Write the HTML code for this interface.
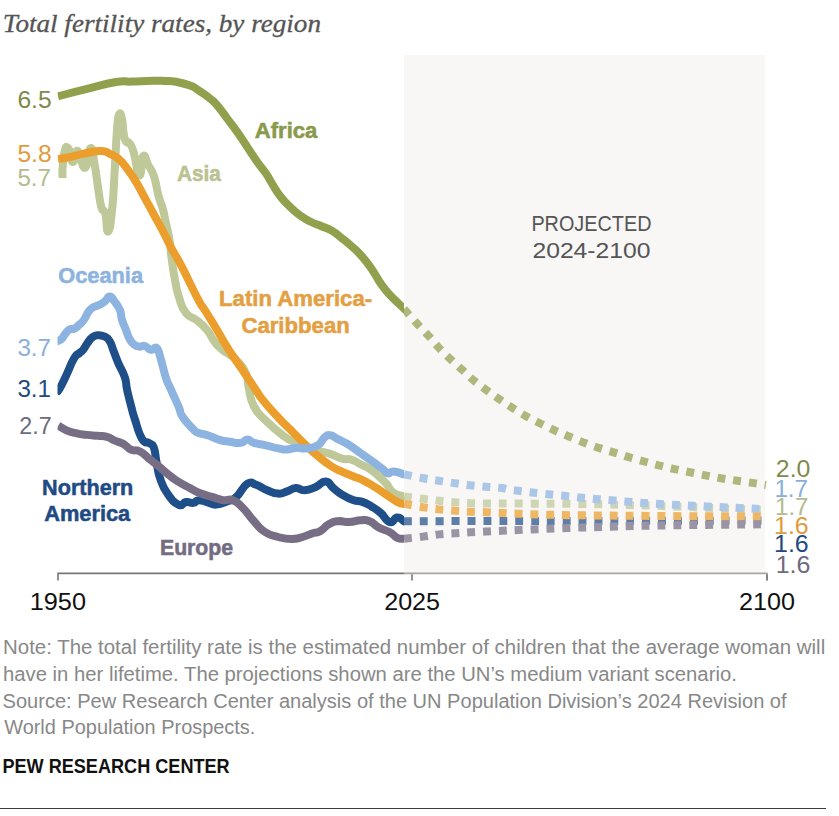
<!DOCTYPE html>
<html><head><meta charset="utf-8"><style>
html,body{margin:0;padding:0;background:#fff;width:839px;height:816px;overflow:hidden}
svg{display:block}
</style></head><body>
<svg width="839" height="816" viewBox="0 0 839 816">
<rect x="404" y="55" width="361" height="518" fill="#f8f7f5"/>
<path d="M58,580.5 V573.4 H404" fill="none" stroke="#777777" stroke-width="1.6"/><path d="M404,573.4 H767 V580.5" fill="none" stroke="#a6a6a6" stroke-width="1.6"/>
<line x1="412" y1="574.2" x2="412" y2="580.5" stroke="#777777" stroke-width="1.6"/>
<line x1="767" y1="574.2" x2="767" y2="580.5" stroke="#777777" stroke-width="1.6"/>
<defs><clipPath id="plot"><rect x="57.5" y="0" width="346.5" height="600"/></clipPath><clipPath id="proj"><rect x="404" y="0" width="400" height="600"/></clipPath></defs>
<path d="M400.68,305.26 L404.0,309.0 C406.3,311.6 413.5,319.8 417.6,324.3 C421.8,328.8 425.3,332.1 428.9,336.1 C432.5,340.1 435.6,344.2 439.2,348.1 C442.8,352.0 446.8,355.7 450.7,359.4 C454.6,363.1 458.6,366.6 462.5,370.1 C466.4,373.7 469.9,377.3 474.0,380.7 C478.1,384.1 482.7,387.4 487.0,390.5 C491.3,393.6 495.6,396.6 500.0,399.6 C504.4,402.6 508.7,405.5 513.2,408.4 C517.7,411.2 522.3,414.1 527.0,416.7 C531.7,419.3 536.6,421.6 541.4,424.0 C546.2,426.4 550.8,428.7 555.6,430.9 C560.4,433.1 565.4,435.0 570.3,437.0 C575.2,439.0 580.0,441.1 585.0,443.0 C590.0,444.9 595.2,446.8 600.3,448.4 C605.3,450.0 610.3,451.3 615.3,452.9 C620.3,454.4 625.3,456.2 630.5,457.7 C635.7,459.2 641.1,460.6 646.3,462.0 C651.5,463.4 656.4,464.7 661.5,466.0 C666.6,467.3 671.8,468.5 677.0,469.6 C682.2,470.7 687.3,471.7 692.5,472.7 C697.7,473.7 702.8,474.8 708.0,475.8 C713.2,476.8 718.5,477.8 723.7,478.7 C728.9,479.6 733.9,480.2 739.2,481.0 C744.5,481.8 751.2,482.7 755.7,483.4 C760.2,484.1 764.3,484.7 766.0,485.0" fill="none" stroke="#aeb87c" stroke-width="8" stroke-dasharray="7.94 7.94" stroke-dashoffset="10.88" clip-path="url(#proj)"/>
<path d="M399.04,495.77 L404.0,496.4 C407.2,496.8 417.2,498.1 423.0,498.8 C428.8,499.5 433.7,500.2 439.0,500.8 C444.3,501.4 449.7,501.9 455.0,502.3 C460.3,502.7 463.5,503.0 471.0,503.2 C478.5,503.4 486.8,503.4 500.0,503.5 C513.2,503.6 533.3,503.6 550.0,503.7 C566.7,503.8 584.0,504.0 600.0,504.3 C616.0,504.6 629.3,505.0 646.0,505.5 C662.7,506.0 680.0,506.7 700.0,507.5 C720.0,508.3 755.0,510.0 766.0,510.5" fill="none" stroke="#ced5b3" stroke-width="8" stroke-dasharray="7.94 7.94" stroke-dashoffset="10.88" clip-path="url(#proj)"/>
<path d="M399.00,521.21 L404.0,521.2 C423.0,521.2 488.3,521.0 518.0,521.0 C547.7,521.0 541.1,521.1 582.4,521.0 C623.7,520.9 735.4,520.6 766.0,520.5" fill="none" stroke="#5c7ea7" stroke-width="8" stroke-dasharray="7.94 7.94" stroke-dashoffset="10.88" clip-path="url(#proj)"/>
<path d="M399.10,473.31 L404.0,474.3 C407.2,474.9 417.5,477.1 423.3,478.2 C429.1,479.3 433.6,479.9 438.7,480.7 C443.8,481.5 448.8,482.3 454.0,483.1 C459.2,483.9 464.6,484.7 469.9,485.3 C475.2,485.9 480.5,486.4 485.8,486.8 C491.1,487.2 496.3,487.3 501.7,488.0 C507.1,488.7 504.6,489.2 518.0,490.8 C531.5,492.4 558.7,495.5 582.4,497.7 C606.1,499.9 629.4,502.1 660.0,504.0 C690.6,505.9 748.3,508.3 766.0,509.2" fill="none" stroke="#abc6e6" stroke-width="8" stroke-dasharray="7.94 7.94" stroke-dashoffset="10.88" clip-path="url(#proj)"/>
<path d="M399.08,502.92 L404.0,503.8 C407.2,504.4 417.2,506.3 423.0,507.2 C428.8,508.1 433.7,508.8 439.0,509.4 C444.3,510.0 449.8,510.4 455.0,510.8 C460.2,511.2 464.8,511.6 470.0,511.8 C475.2,512.0 480.7,512.0 486.0,512.2 C491.3,512.4 496.7,512.8 502.0,513.0 C507.3,513.2 504.7,513.3 518.0,513.7 C531.3,514.1 540.7,514.8 582.0,515.3 C623.3,515.8 735.3,516.5 766.0,516.7" fill="none" stroke="#efb764" stroke-width="8" stroke-dasharray="7.94 7.94" stroke-dashoffset="10.88" clip-path="url(#proj)"/>
<path d="M399.03,539.25 L404.0,538.7 C407.2,538.4 417.2,537.3 423.0,536.6 C428.8,535.9 433.7,535.0 439.0,534.4 C444.3,533.8 449.8,533.6 455.0,533.3 C460.2,532.9 464.8,532.6 470.0,532.3 C475.2,532.0 480.7,531.8 486.0,531.5 C491.3,531.2 496.7,531.0 502.0,530.8 C507.3,530.5 504.6,530.5 518.0,530.0 C531.4,529.5 558.7,528.2 582.4,527.5 C606.1,526.8 629.4,526.0 660.0,525.5 C690.6,525.0 748.3,524.5 766.0,524.3" fill="none" stroke="#9b94a5" stroke-width="8" stroke-dasharray="7.94 7.94" stroke-dashoffset="10.88" clip-path="url(#proj)"/>
<path d="M58.0,96.3 C65.7,94.3 71.5,92.7 87.0,88.9 C102.5,85.1 104.3,83.9 116.0,82.0 C127.7,80.1 121.1,81.9 131.0,81.6 C140.9,81.3 143.9,81.0 153.0,80.8 C162.1,80.6 158.9,80.6 165.0,80.9 C171.1,81.2 169.3,80.5 176.0,81.8 C182.7,83.1 184.1,83.4 190.0,85.6 C195.9,87.8 193.0,86.8 198.3,90.2 C203.6,93.6 204.7,94.1 210.0,98.5 C215.3,102.9 213.5,101.0 218.2,106.6 C222.9,112.2 222.7,112.6 227.8,119.4 C232.9,126.2 232.2,124.9 237.3,132.1 C242.4,139.3 241.8,138.7 246.9,146.4 C252.0,154.1 251.3,153.6 256.4,160.8 C261.5,168.0 261.9,167.6 266.0,173.5 C270.1,179.4 267.9,176.9 271.7,183.0 C275.5,189.1 275.3,189.7 280.3,196.2 C285.3,202.7 285.1,202.1 290.6,207.4 C296.1,212.7 295.4,212.1 300.9,216.0 C306.4,219.9 305.7,219.3 311.2,222.0 C316.7,224.7 316.0,224.0 321.5,226.3 C327.0,228.6 326.3,227.4 331.8,230.6 C337.3,233.8 336.5,234.0 342.0,238.3 C347.5,242.6 346.8,241.9 352.3,246.9 C357.8,251.9 357.1,250.8 362.6,257.2 C368.1,263.6 367.9,263.6 372.9,270.9 C377.9,278.2 376.9,278.2 381.5,284.6 C386.1,291.0 385.4,290.0 390.0,295.0 C394.6,300.0 394.9,299.9 398.6,303.5 C402.3,307.1 402.6,307.2 404.0,308.6 L408.36,312.72" fill="none" stroke="#91a04d" stroke-width="8" stroke-linejoin="round" stroke-linecap="butt" clip-path="url(#plot)"/>
<path d="M62.5,178.0 C62.6,174.5 62.1,172.5 62.8,165.0 C63.5,157.5 63.7,154.7 65.0,150.0 C66.3,145.3 66.2,147.0 67.5,147.5 C68.8,148.0 68.5,148.1 70.0,152.0 C71.5,155.9 71.0,162.3 73.0,162.0 C75.0,161.7 74.4,149.4 77.6,150.9 C80.8,152.4 81.6,168.5 85.0,167.8 C88.4,167.1 88.0,149.3 90.5,148.2 C93.0,147.1 92.5,153.5 94.5,163.7 C96.5,173.9 96.1,175.1 97.9,186.6 C99.7,198.1 99.3,199.7 101.3,206.9 C103.3,214.1 103.5,207.0 105.3,213.6 C107.1,220.2 106.2,232.2 108.0,231.5 C109.8,230.8 110.2,227.3 112.0,211.0 C113.8,194.7 113.4,192.1 114.7,170.5 C116.0,148.9 115.8,144.9 117.0,130.0 C118.2,115.1 117.8,117.4 119.1,114.5 C120.4,111.6 120.8,114.3 122.0,119.1 C123.2,123.9 122.5,126.5 123.5,132.4 C124.5,138.3 124.2,138.4 125.7,141.2 C127.2,144.0 127.0,140.2 129.1,143.0 C131.2,145.8 130.8,143.2 133.5,151.8 C136.2,160.4 136.8,174.1 139.4,175.3 C142.0,176.5 140.8,158.9 143.1,156.2 C145.4,153.5 145.3,159.5 148.2,165.0 C151.1,170.5 151.4,168.6 154.1,176.8 C156.8,185.0 156.2,187.3 158.5,195.9 C160.8,204.5 160.9,201.7 162.9,209.1 C164.9,216.5 164.2,215.6 166.0,223.8 C167.8,232.0 168.0,230.3 169.5,240.0 C171.0,249.7 170.3,249.3 171.8,260.0 C173.3,270.7 173.1,270.1 175.0,280.0 C176.9,289.9 176.1,288.5 179.0,297.3 C181.9,306.1 181.0,306.7 186.0,313.0 C191.0,319.3 192.1,316.3 197.8,321.0 C203.5,325.7 203.1,325.2 207.4,330.5 C211.7,335.8 210.0,335.8 214.0,341.0 C218.0,346.2 216.8,345.2 222.5,350.0 C228.2,354.8 229.0,352.7 235.3,359.0 C241.6,365.3 242.5,366.4 246.0,373.7 C249.5,381.0 246.4,377.8 248.5,386.5 C250.6,395.2 249.0,397.1 254.0,406.5 C259.0,415.9 259.5,414.2 267.2,421.9 C274.9,429.6 275.6,429.9 282.7,435.2 C289.8,440.5 286.7,438.3 293.7,441.8 C300.7,445.3 302.1,445.8 309.1,448.4 C316.1,451.0 314.2,449.9 320.0,451.4 C325.8,452.9 325.1,452.2 331.0,454.1 C336.9,456.0 336.6,457.2 342.0,458.7 C347.4,460.2 346.4,458.1 351.3,459.6 C356.2,461.1 355.5,461.7 360.4,464.2 C365.3,466.7 364.7,465.6 369.6,468.8 C374.5,472.0 374.4,472.3 378.8,476.2 C383.2,480.1 382.3,479.1 386.2,483.5 C390.1,487.9 388.8,489.3 393.5,492.7 C398.2,496.1 401.2,495.4 404.0,496.4 L409.66,498.39" fill="none" stroke="#bec899" stroke-width="8" stroke-linejoin="round" stroke-linecap="butt" clip-path="url(#plot)"/>
<path d="M56.0,393.0 C57.1,391.7 57.1,393.0 60.0,388.0 C62.9,383.0 63.0,382.3 66.7,374.4 C70.4,366.5 70.6,364.2 74.0,358.5 C77.4,352.8 77.1,355.3 79.5,353.0 C81.9,350.7 80.8,352.7 83.0,350.0 C85.2,347.3 85.1,346.3 87.6,342.9 C90.1,339.5 89.6,339.2 92.4,337.2 C95.2,335.2 94.8,335.4 98.1,335.3 C101.4,335.2 101.7,335.2 104.8,336.7 C107.9,338.2 107.3,337.3 109.6,341.0 C111.9,344.7 111.1,344.7 113.4,350.5 C115.7,356.3 115.2,355.8 118.2,362.9 C121.2,370.0 122.4,369.9 124.8,377.2 C127.2,384.5 125.3,381.9 127.2,390.3 C129.1,398.7 129.8,401.2 131.8,408.7 C133.8,416.2 131.9,410.4 134.6,418.4 C137.3,426.4 138.0,432.0 141.9,438.6 C145.8,445.2 146.1,440.7 149.3,443.2 C152.5,445.7 152.0,442.7 153.9,447.8 C155.8,452.9 154.9,454.2 156.6,462.5 C158.3,470.8 157.4,470.7 160.3,479.0 C163.2,487.3 162.7,486.9 167.6,493.8 C172.5,500.7 173.8,502.6 178.7,504.8 C183.6,507.0 182.1,502.5 186.0,502.0 C189.9,501.5 190.0,503.4 193.4,502.9 C196.8,502.4 195.0,500.3 198.8,500.2 C202.6,500.1 202.9,501.2 207.6,502.4 C212.3,503.6 211.2,504.9 216.5,504.6 C221.8,504.3 222.2,503.4 227.5,501.3 C232.8,499.2 231.0,501.6 236.3,496.9 C241.6,492.2 242.1,486.9 247.4,483.7 C252.7,480.5 250.9,483.0 256.2,484.8 C261.5,486.6 261.3,488.0 267.2,490.3 C273.1,492.6 272.9,493.3 278.2,493.6 C283.5,493.9 282.3,492.9 287.0,491.4 C291.7,489.9 291.2,488.4 295.9,488.1 C300.6,487.8 299.4,490.6 304.7,490.3 C310.0,490.0 310.1,489.3 315.7,487.0 C321.3,484.7 321.0,481.2 325.7,481.5 C330.4,481.8 329.1,484.6 333.4,488.1 C337.7,491.6 336.8,491.4 342.0,494.6 C347.2,497.8 347.6,498.2 353.0,500.1 C358.4,502.0 357.4,500.2 362.3,501.9 C367.2,503.6 366.6,503.6 371.5,506.5 C376.4,509.4 375.8,508.7 380.7,512.9 C385.6,517.1 385.5,520.9 389.9,522.1 C394.3,523.3 393.4,517.7 397.2,517.5 C401.0,517.3 402.2,520.2 404.0,521.2 L409.27,524.07" fill="none" stroke="#1f4f88" stroke-width="8" stroke-linejoin="round" stroke-linecap="butt" clip-path="url(#plot)"/>
<path d="M58.0,159.0 C61.2,158.5 63.1,158.4 70.0,157.0 C76.9,155.6 75.7,155.2 84.0,153.6 C92.3,152.0 94.1,150.8 101.0,150.9 C107.9,151.0 105.3,151.8 110.0,154.0 C114.7,156.2 114.1,155.0 118.8,159.1 C123.5,163.2 122.9,163.1 127.6,169.4 C132.3,175.7 131.8,174.8 136.5,182.6 C141.2,190.4 140.6,190.2 145.3,198.8 C150.0,207.4 149.4,206.4 154.1,215.0 C158.8,223.6 158.2,222.2 162.9,231.2 C167.6,240.2 166.7,239.3 171.8,248.8 C176.9,258.3 175.0,253.6 181.9,266.9 C188.8,280.2 191.5,287.0 197.8,298.8 C204.1,310.6 200.4,302.9 205.4,311.0 C210.4,319.1 210.4,318.8 216.5,329.0 C222.6,339.2 221.7,338.7 228.4,349.2 C235.1,359.7 234.4,358.0 241.5,368.5 C248.6,379.0 249.2,380.0 254.9,388.4 C260.6,396.8 256.6,392.1 262.8,399.9 C269.0,407.7 270.0,408.7 278.2,417.5 C286.4,426.3 286.0,425.3 293.7,433.0 C301.4,440.7 300.4,440.0 306.9,446.2 C313.4,452.4 311.6,450.8 318.0,456.1 C324.4,461.4 324.6,461.9 331.0,466.0 C337.4,470.1 336.1,468.9 342.0,471.6 C347.9,474.3 347.1,473.7 353.0,476.2 C358.9,478.7 358.2,477.9 364.1,480.8 C370.0,483.7 369.2,483.5 375.1,487.2 C381.0,490.9 380.3,490.7 386.2,494.6 C392.1,498.5 392.5,499.4 397.2,501.9 C401.9,504.4 402.2,503.3 404.0,503.8 L409.78,505.41" fill="none" stroke="#eb9e2c" stroke-width="8" stroke-linejoin="round" stroke-linecap="butt" clip-path="url(#plot)"/>
<path d="M56.0,341.5 C56.8,341.2 57.4,341.3 59.0,340.5 C60.6,339.7 60.3,340.4 62.0,338.5 C63.7,336.6 63.5,335.9 65.5,333.5 C67.5,331.1 67.2,330.8 69.5,329.5 C71.8,328.2 71.7,329.9 74.3,328.6 C76.9,327.3 76.6,327.1 79.1,324.8 C81.6,322.5 80.8,324.1 83.8,320.0 C86.8,315.9 86.2,313.5 90.4,309.4 C94.6,305.3 95.7,307.0 99.6,304.8 C103.5,302.6 102.4,303.3 105.1,301.1 C107.8,298.9 107.2,296.5 109.7,296.5 C112.2,296.5 111.6,297.5 114.3,301.1 C117.0,304.7 117.8,305.0 119.9,310.0 C122.0,315.0 120.4,314.8 122.0,320.0 C123.6,325.2 123.8,324.4 125.8,329.5 C127.8,334.6 127.3,334.9 129.6,339.0 C131.9,343.1 131.6,342.7 134.4,344.8 C137.2,346.9 137.2,346.4 140.0,346.7 C142.8,347.0 142.0,345.1 145.0,346.0 C148.0,346.9 148.0,349.4 151.1,349.9 C154.2,350.4 154.1,346.1 156.6,348.0 C159.1,349.9 157.8,349.4 160.3,357.2 C162.8,365.0 162.9,368.6 165.8,377.4 C168.7,386.2 167.9,382.5 171.3,390.3 C174.7,398.1 175.7,399.8 178.7,406.8 C181.7,413.8 178.5,410.5 182.4,416.5 C186.3,422.5 189.0,425.0 193.4,429.4 C197.8,433.8 195.0,431.5 198.8,433.0 C202.6,434.5 202.3,433.4 207.6,435.2 C212.9,437.0 212.8,437.8 218.7,439.6 C224.6,441.4 223.8,440.9 229.7,441.8 C235.6,442.7 236.0,443.5 240.7,442.9 C245.4,442.3 243.9,439.6 247.4,439.6 C250.9,439.6 249.3,441.4 254.0,442.9 C258.7,444.4 258.5,443.6 265.0,445.1 C271.5,446.6 272.3,447.2 278.2,448.4 C284.1,449.6 282.3,449.6 287.0,449.5 C291.7,449.4 290.6,448.2 295.9,447.9 C301.2,447.6 301.0,449.1 306.9,448.4 C312.8,447.7 313.3,448.0 318.0,445.1 C322.7,442.2 321.4,440.0 324.6,437.4 C327.8,434.8 326.4,434.7 330.1,435.2 C333.8,435.7 333.7,437.1 338.4,439.4 C343.1,441.7 342.7,441.1 347.6,444.0 C352.5,446.9 351.9,447.0 356.8,450.4 C361.7,453.8 361.1,453.5 366.0,456.9 C370.9,460.3 370.7,460.1 375.1,463.3 C379.5,466.5 379.1,466.1 382.5,468.8 C385.9,471.5 385.1,472.7 388.0,473.4 C390.9,474.1 389.2,471.4 393.5,471.6 C397.8,471.8 401.2,473.6 404.0,474.3 L409.81,475.79" fill="none" stroke="#8db3e0" stroke-width="8" stroke-linejoin="round" stroke-linecap="butt" clip-path="url(#plot)"/>
<path d="M58.3,425.7 C60.5,426.9 61.9,428.3 66.5,430.3 C71.1,432.3 70.3,431.9 75.7,433.1 C81.1,434.3 80.9,434.2 86.8,434.9 C92.7,435.6 92.4,435.3 97.8,435.8 C103.2,436.3 102.6,435.6 107.0,436.8 C111.4,438.0 109.9,438.5 114.3,440.4 C118.7,442.3 119.1,441.6 123.5,444.1 C127.9,446.6 126.5,447.6 130.9,449.6 C135.3,451.6 135.2,449.0 140.1,451.5 C145.0,454.0 144.4,454.9 149.3,458.8 C154.2,462.7 153.1,461.8 158.5,466.2 C163.9,470.6 164.1,471.2 169.5,475.4 C174.9,479.6 173.2,478.4 178.7,481.8 C184.2,485.2 184.1,485.0 190.0,488.1 C195.9,491.2 195.1,491.3 201.0,493.6 C206.9,495.9 206.2,495.1 212.1,496.9 C218.0,498.7 217.5,499.3 223.1,500.2 C228.7,501.1 227.7,498.1 233.0,500.2 C238.3,502.3 237.3,502.4 242.9,508.0 C248.5,513.6 248.1,514.8 254.0,521.2 C259.9,527.6 258.5,527.8 265.0,532.0 C271.5,536.2 271.1,535.1 278.2,537.0 C285.3,538.9 285.0,539.0 291.5,539.0 C298.0,539.0 296.6,538.6 302.5,537.0 C308.4,535.4 308.8,534.5 313.5,533.0 C318.2,531.5 315.8,533.7 320.0,531.3 C324.2,528.9 324.3,526.7 329.2,524.0 C334.1,521.3 333.0,521.7 338.4,521.2 C343.8,520.7 343.5,522.3 349.4,522.1 C355.3,521.9 355.0,520.5 360.4,520.3 C365.8,520.1 364.7,519.3 369.6,521.2 C374.5,523.1 373.4,524.7 378.8,527.6 C384.2,530.5 385.0,529.5 389.9,532.2 C394.8,534.9 393.4,536.1 397.2,537.8 C401.0,539.5 402.2,538.5 404.0,538.7 L409.95,539.49" fill="none" stroke="#776e86" stroke-width="8" stroke-linejoin="round" stroke-linecap="butt" clip-path="url(#plot)"/>
<text x="2.80" y="31.80" font-family="Liberation Serif" font-size="25.00" font-weight="normal" font-style="italic" fill="#555555" stroke="#555555" stroke-width="0.3" textLength="318.20" lengthAdjust="spacingAndGlyphs">Total fertility rates, by region</text>
<text x="17.40" y="107.60" font-family="Liberation Sans" font-size="23.60" font-weight="normal" font-style="normal" fill="#7f8b4b" textLength="34.30" lengthAdjust="spacingAndGlyphs">6.5</text>
<text x="17.40" y="161.60" font-family="Liberation Sans" font-size="23.60" font-weight="normal" font-style="normal" fill="#e09b3c" textLength="34.30" lengthAdjust="spacingAndGlyphs">5.8</text>
<text x="17.40" y="185.60" font-family="Liberation Sans" font-size="23.60" font-weight="normal" font-style="normal" fill="#b3bb8f" textLength="33.60" lengthAdjust="spacingAndGlyphs">5.7</text>
<text x="17.40" y="355.60" font-family="Liberation Sans" font-size="23.60" font-weight="normal" font-style="normal" fill="#8aafdc" textLength="33.60" lengthAdjust="spacingAndGlyphs">3.7</text>
<text x="17.40" y="396.50" font-family="Liberation Sans" font-size="23.60" font-weight="normal" font-style="normal" fill="#1f4a80" textLength="33.60" lengthAdjust="spacingAndGlyphs">3.1</text>
<text x="19.30" y="433.50" font-family="Liberation Sans" font-size="23.60" font-weight="normal" font-style="normal" fill="#6f6a7d" textLength="32.40" lengthAdjust="spacingAndGlyphs">2.7</text>
<text x="775.80" y="476.90" font-family="Liberation Sans" font-size="23.60" font-weight="normal" font-style="normal" fill="#7f8b4b" textLength="34.60" lengthAdjust="spacingAndGlyphs">2.0</text>
<text x="774.40" y="496.80" font-family="Liberation Sans" font-size="23.60" font-weight="normal" font-style="normal" fill="#8aafdc" textLength="33.60" lengthAdjust="spacingAndGlyphs">1.7</text>
<text x="775.00" y="514.70" font-family="Liberation Sans" font-size="23.60" font-weight="normal" font-style="normal" fill="#b3bb8f" textLength="33.50" lengthAdjust="spacingAndGlyphs">1.7</text>
<text x="774.00" y="533.60" font-family="Liberation Sans" font-size="23.60" font-weight="normal" font-style="normal" fill="#e09b3c" textLength="34.70" lengthAdjust="spacingAndGlyphs">1.6</text>
<text x="774.00" y="552.00" font-family="Liberation Sans" font-size="23.60" font-weight="normal" font-style="normal" fill="#1f4a80" textLength="34.70" lengthAdjust="spacingAndGlyphs">1.6</text>
<text x="775.70" y="572.60" font-family="Liberation Sans" font-size="23.60" font-weight="normal" font-style="normal" fill="#6f6a7d" textLength="34.80" lengthAdjust="spacingAndGlyphs">1.6</text>
<text x="29.70" y="610.00" font-family="Liberation Sans" font-size="23.60" font-weight="normal" font-style="normal" fill="#111111" textLength="56.30" lengthAdjust="spacingAndGlyphs">1950</text>
<text x="384.20" y="609.80" font-family="Liberation Sans" font-size="23.60" font-weight="normal" font-style="normal" fill="#111111" textLength="55.80" lengthAdjust="spacingAndGlyphs">2025</text>
<text x="739.00" y="610.00" font-family="Liberation Sans" font-size="23.60" font-weight="normal" font-style="normal" fill="#111111" textLength="56.00" lengthAdjust="spacingAndGlyphs">2100</text>
<text x="254.80" y="137.60" font-family="Liberation Sans" font-size="21.80" font-weight="bold" font-style="normal" fill="#8a9a4c" stroke="#8a9a4c" stroke-width="0.55" textLength="62.50" lengthAdjust="spacingAndGlyphs">Africa</text>
<text x="177.00" y="180.80" font-family="Liberation Sans" font-size="21.80" font-weight="bold" font-style="normal" fill="#bac291" stroke="#bac291" stroke-width="0.55" textLength="43.90" lengthAdjust="spacingAndGlyphs">Asia</text>
<text x="219.10" y="306.30" font-family="Liberation Sans" font-size="21.80" font-weight="bold" font-style="normal" fill="#e3a043" stroke="#e3a043" stroke-width="0.55" textLength="153.00" lengthAdjust="spacingAndGlyphs">Latin America-</text>
<text x="241.40" y="333.10" font-family="Liberation Sans" font-size="21.80" font-weight="bold" font-style="normal" fill="#e3a043" stroke="#e3a043" stroke-width="0.55" textLength="108.40" lengthAdjust="spacingAndGlyphs">Caribbean</text>
<text x="58.30" y="282.90" font-family="Liberation Sans" font-size="21.80" font-weight="bold" font-style="normal" fill="#8db3e0" stroke="#8db3e0" stroke-width="0.55" textLength="84.70" lengthAdjust="spacingAndGlyphs">Oceania</text>
<text x="42.10" y="494.90" font-family="Liberation Sans" font-size="21.80" font-weight="bold" font-style="normal" fill="#1f4b85" stroke="#1f4b85" stroke-width="0.55" textLength="91.20" lengthAdjust="spacingAndGlyphs">Northern</text>
<text x="44.20" y="521.10" font-family="Liberation Sans" font-size="21.80" font-weight="bold" font-style="normal" fill="#1f4b85" stroke="#1f4b85" stroke-width="0.55" textLength="86.00" lengthAdjust="spacingAndGlyphs">America</text>
<text x="160.00" y="554.50" font-family="Liberation Sans" font-size="21.80" font-weight="bold" font-style="normal" fill="#736c83" stroke="#736c83" stroke-width="0.55" textLength="73.10" lengthAdjust="spacingAndGlyphs">Europe</text>
<text x="531.40" y="230.80" font-family="Liberation Sans" font-size="22.80" font-weight="normal" font-style="normal" fill="#555555" textLength="120.10" lengthAdjust="spacingAndGlyphs">PROJECTED</text>
<text x="532.40" y="257.60" font-family="Liberation Sans" font-size="22.80" font-weight="normal" font-style="normal" fill="#555555" textLength="118.20" lengthAdjust="spacingAndGlyphs">2024-2100</text>
<text x="2.40" y="772.90" font-family="Liberation Sans" font-size="19.90" font-weight="bold" font-style="normal" fill="#111111" textLength="227.30" lengthAdjust="spacingAndGlyphs">PEW RESEARCH CENTER</text>
<text x="3.00" y="653.80" font-family="Liberation Sans" font-size="19.50" fill="#888888" textLength="822.20" lengthAdjust="spacingAndGlyphs">Note: The total fertility rate is the estimated number of children that the average woman will</text>
<text x="3.00" y="680.90" font-family="Liberation Sans" font-size="19.50" fill="#888888" textLength="733.80" lengthAdjust="spacingAndGlyphs">have in her lifetime. The projections shown are the UN’s medium variant scenario.</text>
<text x="2.60" y="707.70" font-family="Liberation Sans" font-size="19.50" fill="#888888" textLength="784.00" lengthAdjust="spacingAndGlyphs">Source: Pew Research Center analysis of the UN Population Division’s 2024 Revision of</text>
<text x="4.20" y="733.80" font-family="Liberation Sans" font-size="19.50" fill="#888888" textLength="251.20" lengthAdjust="spacingAndGlyphs">World Population Prospects.</text>
<line x1="0" y1="808.5" x2="826" y2="808.5" stroke="#3a3a3a" stroke-width="1"/>
</svg>
</body></html>
